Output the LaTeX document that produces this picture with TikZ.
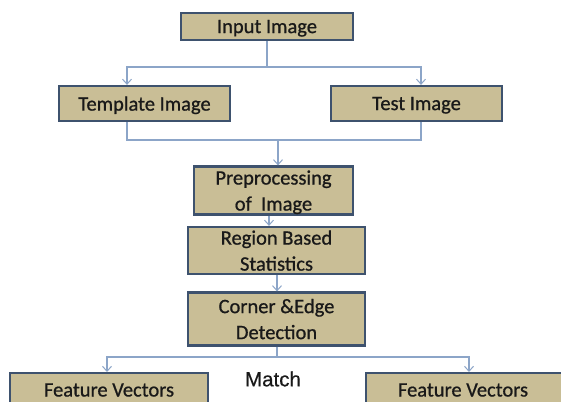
\documentclass[tikz,border=0pt]{standalone}
\usepackage{fontspec}
\setmainfont{Carlito}
\newfontfamily\stagefont{Carlito}[FakeBold=0.8]
\newfontfamily\matchfont{Liberation Sans}[FakeBold=0.5]
\usetikzlibrary{arrows.meta}
\definecolor{boxfill}{RGB}{201,190,150}
\definecolor{boxline}{RGB}{62,82,110}
\definecolor{linkline}{RGB}{140,165,200}
\definecolor{inktext}{RGB}{25,25,25}
\tikzset{
  stage/.style={draw=boxline, line width=2.2pt, fill=boxfill, inner sep=0pt,
    font=\stagefont\fontsize{20.5}{26}\selectfont, text=inktext, align=center,
    text depth=0pt},
  label/.style={font=\stagefont\fontsize{20.5}{24}\selectfont, text=inktext},
  link/.style={draw=linkline, line width=1.1pt},
  linkarrow/.style={link, -{Straight Barb[length=5pt,width=9pt,line width=1pt]}},
}
\begin{document}
\begin{tikzpicture}[x=1pt,y=-1pt]
\useasboundingbox (0,0) rectangle (561,401);
\clip (0,0) rectangle (561,401);
\fill[white] (0,0) rectangle (561,401);

% stages of the pipeline
\node[stage, minimum width=172pt, minimum height=27pt] (input) at (267,26.5) {Input Image};
\node[stage, minimum width=171pt, minimum height=35pt] (tpl)   at (144.5,103.5) {Template Image};
\node[stage, minimum width=171pt, minimum height=35pt] (test)  at (416.5,103.5) {Test Image};
\node[stage, minimum width=159pt, minimum height=48pt] (pre)   at (273.5,190.5) {Preprocessing\\of\ \ Image};
\node[stage, minimum width=177pt, minimum height=47pt] (reg)   at (276.5,250.5) {Region Based\\Statistics};
\node[stage, minimum width=177pt, minimum height=53pt] (cor)   at (276.5,319) {Corner \&Edge\\Detection};
\node[stage, minimum width=198pt, minimum height=40pt, anchor=north] (fvl) at (109,372) {};
\node[stage, minimum width=205pt, minimum height=40pt, anchor=north west] (fvr) at (365,372) {};
\node[label] (fvlt) at (109,390) {Feature Vectors};
\node[label] (fvrt) at (463,390) {Feature Vectors};
\node[label, font=\matchfont\fontsize{20.5}{24}\selectfont] (match) at (273,379) {Match};

% junction points of the connectors
\coordinate (j1) at (267,67);
\coordinate (j2) at (278,140);
\coordinate (j3) at (277,357);
\coordinate (tplx) at (127,0);
\coordinate (testx) at (421,0);
\coordinate (fvlx) at (107,0);
\coordinate (fvrx) at (469,0);

% input splits into template and test images
\draw[link] (input.south) -- (j1);
\draw[linkarrow] (j1) -| (tplx |- tpl.north);
\draw[linkarrow] (j1) -| (testx |- test.north);

% both images merge into preprocessing
\draw[link] (tplx |- tpl.south) |- (j2);
\draw[link] (testx |- test.south) |- (j2);
\draw[linkarrow] (j2) -- (j2 |- pre.north);

% processing chain
\draw[linkarrow] (pre.south -| 269,0) -- (reg.north -| 269,0);
\draw[linkarrow] (reg.south -| 277,0) -- (cor.north -| 277,0);

% detection splits into the two feature vectors
\draw[link] (cor.south -| j3) -- (j3);
\draw[linkarrow] (j3) -| (fvlx |- fvl.north);
\draw[linkarrow] (j3) -| (fvrx |- fvr.north);
\end{tikzpicture}
\end{document}
